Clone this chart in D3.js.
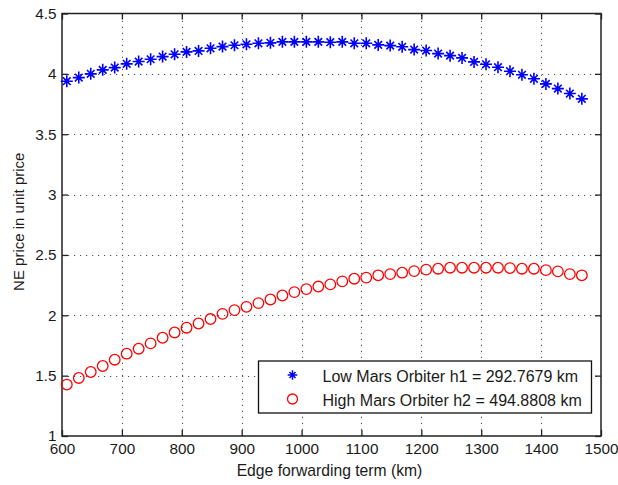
<!DOCTYPE html>
<html>
<head>
<meta charset="utf-8">
<script src="https://cdn.jsdelivr.net/npm/d3@7/dist/d3.min.js"></script>
<style>
  html, body { margin: 0; padding: 0; background: #fff; }
  svg { display: block; }
  text { font-family: "Liberation Sans", Arial, Helvetica, sans-serif; fill: #1a1a1a; }
</style>
</head>
<body>
<svg id="chart" width="618" height="485"></svg>
<script>
// Edge forwarding term (km) for each sample
const termKm = [608, 628, 648, 668, 688, 708, 728, 748, 768, 788,
                808, 828, 848, 868, 888, 908, 928, 948, 968, 988,
                1008, 1028, 1048, 1068, 1088, 1108, 1128, 1148, 1168, 1188,
                1208, 1228, 1248, 1268, 1288, 1308, 1328, 1348, 1368, 1388,
                1408, 1428, 1448, 1468];

// NE price, low orbiter
const lowOrbiter = [3.939, 3.969, 4.000, 4.033, 4.052, 4.083, 4.102, 4.121, 4.143, 4.162,
                    4.182, 4.190, 4.212, 4.226, 4.237, 4.245, 4.253, 4.257, 4.265, 4.265,
                    4.265, 4.265, 4.262, 4.265, 4.253, 4.253, 4.240, 4.234, 4.224, 4.201,
                    4.193, 4.168, 4.151, 4.132, 4.099, 4.079, 4.055, 4.022, 3.992, 3.959,
                    3.917, 3.878, 3.837, 3.793];

// NE price, high orbiter
const highOrbiter = [1.426, 1.481, 1.530, 1.580, 1.632, 1.682, 1.723, 1.767, 1.814, 1.858,
                     1.897, 1.932, 1.969, 2.012, 2.043, 2.070, 2.101, 2.131, 2.164, 2.192,
                     2.217, 2.238, 2.256, 2.281, 2.303, 2.312, 2.331, 2.341, 2.353, 2.366,
                     2.378, 2.386, 2.394, 2.394, 2.394, 2.394, 2.394, 2.391, 2.386, 2.386,
                     2.374, 2.364, 2.341, 2.331];

const seriesNames = ["Low Mars Orbiter h1 = 292.7679 km", "High Mars Orbiter h2 = 494.8808 km"];

const xTicks = [600, 700, 800, 900, 1000, 1100, 1200, 1300, 1400, 1500];
const xTickLabels = ["600", "700", "800", "900", "1000", "1100", "1200", "1300", "1400", "1500"];
const yTicks = [1, 1.5, 2, 2.5, 3, 3.5, 4, 4.5];
const yTickLabels = ["1", "1.5", "2", "2.5", "3", "3.5", "4", "4.5"];

const xLabel = "Edge forwarding term (km)";
const yLabel = "NE price in unit price";

// Plot frame
const frame = { left: 62, right: 601, top: 13.5, bottom: 436 };

const svg = d3.select("#chart");
const x = d3.scaleLinear().domain([600, 1500]).range([frame.left, frame.right]);
const y = d3.scaleLinear().domain([1, 4.5]).range([frame.bottom, frame.top]);

// Dotted grid
const grid = svg.append("g")
  .attr("stroke", "#555")
  .attr("stroke-width", 1.1)
  .attr("stroke-dasharray", "1.2,4.8");
grid.selectAll("line.gx").data(xTicks.slice(1, -1)).join("line")
  .attr("class", "gx")
  .attr("x1", d => Math.round(x(d)) + 0.5).attr("x2", d => Math.round(x(d)) + 0.5)
  .attr("y1", frame.bottom).attr("y2", frame.top);
grid.selectAll("line.gy").data(yTicks.slice(1, -1)).join("line")
  .attr("class", "gy")
  .attr("y1", d => Math.round(y(d)) + 0.5).attr("y2", d => Math.round(y(d)) + 0.5)
  .attr("x1", frame.left).attr("x2", frame.right);

// Axes with inward ticks on all four sides
const tickLen = 6;
const fmtX = d => xTickLabels[xTicks.indexOf(d)];
const fmtY = d => yTickLabels[yTicks.indexOf(d)];

function styleAxis(g) {
  g.select(".domain").remove();
  g.selectAll(".tick line").attr("stroke", "#222").attr("stroke-width", 1.3);
  g.selectAll(".tick text")
    .attr("fill", "#1a1a1a")
    .style("font-family", '"Liberation Sans", Arial, sans-serif')
    .style("font-size", "15.3px");
}

svg.append("g").attr("transform", `translate(0,${frame.bottom})`)
  .call(d3.axisBottom(x).tickValues(xTicks).tickFormat(fmtX)
        .tickSizeInner(-tickLen).tickSizeOuter(0).tickPadding(7.5))
  .call(styleAxis);

svg.append("g").attr("transform", `translate(${frame.left},0)`)
  .call(d3.axisLeft(y).tickValues(yTicks).tickFormat(fmtY)
        .tickSizeInner(-tickLen).tickSizeOuter(0).tickPadding(5.5))
  .call(styleAxis);

svg.append("g").attr("transform", `translate(0,${frame.top})`)
  .call(d3.axisTop(x).tickValues(xTicks).tickFormat("")
        .tickSizeInner(-tickLen).tickSizeOuter(0))
  .call(styleAxis);

svg.append("g").attr("transform", `translate(${frame.right},0)`)
  .call(d3.axisRight(y).tickValues(yTicks).tickFormat("")
        .tickSizeInner(-tickLen).tickSizeOuter(0))
  .call(styleAxis);

// Frame
svg.append("rect")
  .attr("x", frame.left).attr("y", frame.top)
  .attr("width", frame.right - frame.left).attr("height", frame.bottom - frame.top)
  .attr("fill", "none").attr("stroke", "#222").attr("stroke-width", 1.5);

// Markers: '*' is a plus with shorter diagonals
const starPath = "M-6,0H6M0,-6V6M-3.8,-3.8L3.8,3.8M-3.8,3.8L3.8,-3.8";

const lowPts = termKm.map((t, i) => ({ t, v: lowOrbiter[i] }));
const highPts = termKm.map((t, i) => ({ t, v: highOrbiter[i] }));

svg.append("g").selectAll("path").data(lowPts).join("path")
  .attr("transform", d => `translate(${x(d.t)},${y(d.v)})`)
  .attr("d", starPath)
  .attr("fill", "none").attr("stroke", "#0000ff").attr("stroke-width", 1.6);

svg.append("g").selectAll("circle").data(highPts).join("circle")
  .attr("cx", d => x(d.t)).attr("cy", d => y(d.v))
  .attr("r", 5.3)
  .attr("fill", "none").attr("stroke", "#ff0000").attr("stroke-width", 1.3);

// Axis titles
svg.append("text")
  .attr("x", (frame.left + frame.right) / 2 - 2).attr("y", 476)
  .attr("text-anchor", "middle")
  .style("font-size", "15.7px")
  .text(xLabel);

svg.append("text")
  .attr("transform", `translate(23.5,${(frame.top + frame.bottom) / 2 - 3}) rotate(-90)`)
  .attr("text-anchor", "middle")
  .style("font-size", "15px")
  .text(yLabel);

// Legend
const lg = svg.append("g");
lg.append("rect")
  .attr("x", 258.5).attr("y", 361).attr("width", 333).attr("height", 52)
  .attr("fill", "#fff").attr("stroke", "#111").attr("stroke-width", 1.3);

const rowY = [375, 399];
lg.append("path")
  .attr("transform", `translate(292.5,${rowY[0]}) scale(0.8)`)
  .attr("d", starPath)
  .attr("fill", "none").attr("stroke", "#0000ff").attr("stroke-width", 1.8);
lg.append("circle")
  .attr("cx", 292.5).attr("cy", rowY[1]).attr("r", 5)
  .attr("fill", "none").attr("stroke", "#ff0000").attr("stroke-width", 1.3);

lg.selectAll("text.entry").data(seriesNames).join("text")
  .attr("class", "entry")
  .attr("x", 322.5)
  .attr("y", (d, i) => rowY[i] + 6.5)
  .style("font-size", "16px")
  .text(d => d);
</script>
</body>
</html>
